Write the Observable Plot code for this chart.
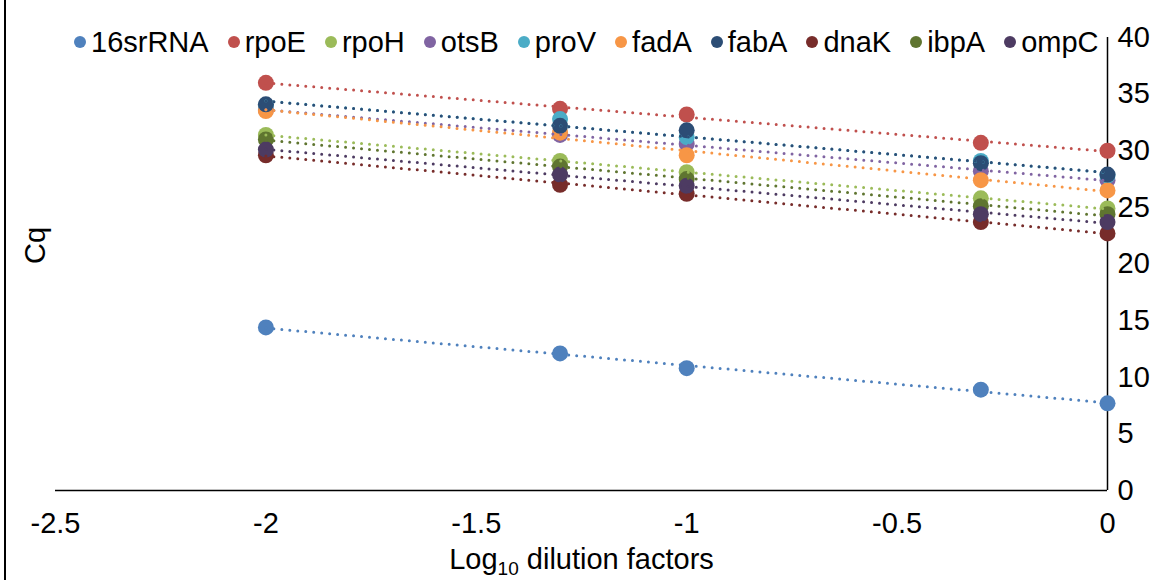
<!DOCTYPE html>
<html>
<head>
<meta charset="utf-8">
<script src="https://cdn.jsdelivr.net/npm/d3@7"></script>
<script src="https://cdn.jsdelivr.net/npm/@observablehq/plot@0.6"></script>
<style>
  html, body { margin: 0; padding: 0; background: #fff; }
  #wrap { position: relative; width: 1167px; height: 580px; font-family: "Liberation Sans", Arial, sans-serif; }
  #border { position: absolute; left: 4px; top: 0; width: 2px; height: 580px; background: #000; }
  #legend { position: absolute; top: 24px; left: 74px; display: flex; gap: 19px; font-size: 29px; line-height: 36px; color: #000; white-space: nowrap; }
  #legend .item { display: flex; align-items: center; gap: 5px; }
  #legend .sw { width: 12px; height: 12px; border-radius: 50%; display: inline-block; }
  svg { position: absolute; left: 0; top: 0; }
</style>
</head>
<body>
<div id="wrap">
  <div id="chart"></div>
  <div id="legend"></div>
  <div id="border"></div>
</div>
<script>
const genes = ["16srRNA","rpoE","rpoH","otsB","proV","fadA","fabA","dnaK","ibpA","ompC"];
const colors = ["#4F81BD","#C0504D","#9BBB59","#8064A2","#4BACC6","#F79646","#2C4D75","#772C2A","#5F7530","#4D3B62"];
const logDilution = [-2, -1.301, -1, -0.301, 0];
const cq16srRNA = [14.4, 12.1, 10.8, 8.9, 7.7];
const cqRpoE    = [36.0, 33.7, 33.2, 30.7, 30.0];
const cqRpoH    = [31.4, 29.1, 28.1, 25.8, 24.9];
const cqOtsB    = [33.6, 31.4, 30.6, 28.2, 27.4];
const cqProV    = [34.0, 32.8, 31.2, 29.1, 27.8];
const cqFadA    = [33.5, 31.6, 29.6, 27.4, 26.5];
const cqFabA    = [34.1, 32.2, 31.8, 28.9, 27.9];
const cqDnaK    = [29.6, 27.0, 26.2, 23.7, 22.7];
const cqIbpA    = [31.0, 28.6, 27.5, 25.1, 24.4];
const cqOmpC    = [30.1, 27.9, 26.9, 24.4, 23.7];
const yTicks = [0,5,10,15,20,25,30,35,40];
const xTicks = [-2.5,-2,-1.5,-1,-0.5,0];

const series = [cq16srRNA,cqRpoE,cqRpoH,cqOtsB,cqProV,cqFadA,cqFabA,cqDnaK,cqIbpA,cqOmpC];
const data = [];
genes.forEach((g, i) => series[i].forEach((v, j) => data.push({gene: g, x: logDilution[j], y: v})));

const chart = Plot.plot({
  width: 1167,
  height: 580,
  marginLeft: 55,
  marginRight: 60,
  marginTop: 37,
  marginBottom: 90,
  style: {fontFamily: '"Liberation Sans", Arial, sans-serif', fontSize: "29px", color: "#000", background: "transparent"},
  x: {domain: [-2.5, 0]},
  y: {domain: [0, 40]},
  color: {domain: genes, range: colors},
  marks: [
    Plot.axisX({ticks: xTicks, tickSize: 0, tickPadding: 22, tickFormat: d => String(d), label: null, fontSize: 29}),
    Plot.axisY({anchor: "right", ticks: yTicks, tickSize: 0, tickPadding: 10, textAnchor: "start", label: null, fontSize: 29}),
    Plot.ruleY([0], {stroke: "#000", strokeWidth: 1.5}),
    Plot.ruleX([0], {y1: 0, y2: 40, stroke: "#000", strokeWidth: 1.5}),
    Plot.dot(data, {x: "x", y: "y", fill: d => d.gene, r: 8, stroke: "none"}),
    ...genes.map(g => Plot.linearRegressionY(data.filter(d => d.gene === g), {
      x: "x", y: "y", stroke: "gene", ci: 0, strokeWidth: 3, strokeDasharray: "0 8", strokeLinecap: "round"
    })),
    Plot.text(["Log₁₀ dilution factors"], {frameAnchor: "bottom", lineAnchor: "middle", dy: 69, fontSize: 29, text: d => d}),
    Plot.text(["Cq"], {frameAnchor: "left", dx: -20, rotate: -90, fontSize: 29, text: d => d})
  ]
});
document.getElementById("chart").appendChild(chart);

// subscript for the x-axis title
const titleNode = Array.from(chart.querySelectorAll("text")).find(t => t.textContent === "Log₁₀ dilution factors");
if (titleNode) {
  titleNode.textContent = "";
  const ns = "http://www.w3.org/2000/svg";
  const a = document.createElementNS(ns, "tspan"); a.textContent = "Log";
  const b = document.createElementNS(ns, "tspan"); b.textContent = "10"; b.setAttribute("font-size", "19"); b.setAttribute("dy", "6");
  const c = document.createElementNS(ns, "tspan"); c.textContent = " dilution factors"; c.setAttribute("dy", "-6");
  titleNode.append(a, b, c);
}

const legend = document.getElementById("legend");
genes.forEach((g, i) => {
  const item = document.createElement("span"); item.className = "item";
  const sw = document.createElement("span"); sw.className = "sw"; sw.style.background = colors[i];
  const t = document.createElement("span"); t.textContent = g;
  item.append(sw, t); legend.append(item);
});
</script>
</body>
</html>
